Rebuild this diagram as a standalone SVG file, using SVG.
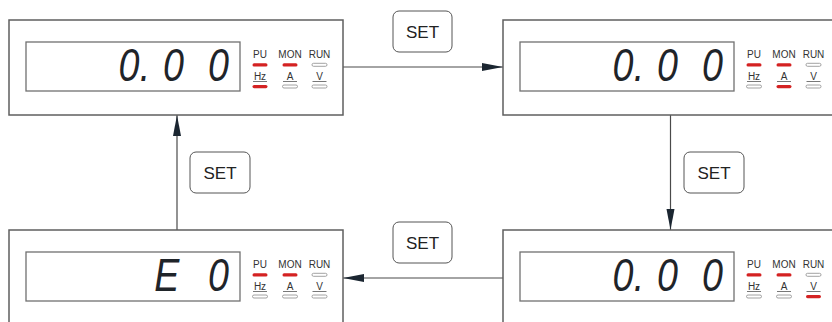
<svg xmlns="http://www.w3.org/2000/svg" width="832" height="322" viewBox="0 0 832 322">
<defs>
<style>
.panel{fill:#fff;stroke:#5f5f5f;stroke-width:1.5}
.lcd{fill:#fff;stroke:#707070;stroke-width:1.3}
.seg{font-family:"Liberation Sans",Arial,sans-serif;font-style:italic;font-size:47px;fill:#1f2429;text-anchor:middle}
.lbl{font-family:"Liberation Sans",Arial,sans-serif;font-size:10px;fill:#333;text-anchor:middle}
.on{fill:#d42222}
.off{fill:#fff;stroke:#8a8a8a;stroke-width:0.8}
.ul{stroke:#555;stroke-width:0.8}
.conn{stroke:#4a4a4a;stroke-width:1.2;fill:none}
.key rect{fill:#fff;stroke:#555;stroke-width:1}
.key text{font-family:"Liberation Sans",Arial,sans-serif;font-size:17px;fill:#222;text-anchor:middle}
</style>
<marker id="arr" markerUnits="userSpaceOnUse" markerWidth="22" markerHeight="9" refX="21" refY="4" orient="auto">
<path d="M0,0 L21,4 L0,8 z" fill="#1b2631"/>
</marker>
</defs>
<rect width="832" height="322" fill="#fff"/>

<g id="connectors">
<line class="conn" x1="343" y1="67" x2="503" y2="67" marker-end="url(#arr)"/>
<line class="conn" x1="670.5" y1="115" x2="670.5" y2="230" marker-end="url(#arr)"/>
<line class="conn" x1="503" y1="278" x2="343" y2="278" marker-end="url(#arr)"/>
<line class="conn" x1="177" y1="230" x2="177" y2="115" marker-end="url(#arr)"/>
</g>

<g id="key-top" class="key"><rect x="393" y="11" width="59" height="41" rx="6"/><text x="422.5" y="38">SET</text></g>
<g id="key-right" class="key"><rect x="684" y="152" width="60" height="41" rx="6"/><text x="714" y="179">SET</text></g>
<g id="key-bottom" class="key"><rect x="393" y="222" width="59" height="41" rx="6"/><text x="422.5" y="249">SET</text></g>
<g id="key-left" class="key"><rect x="190" y="152" width="60" height="41" rx="6"/><text x="220" y="179">SET</text></g>

<g id="panel-top-left" transform="translate(9,20)">
<rect class="panel" x="0" y="0" width="334" height="95"/>
<rect class="lcd" x="17" y="22" width="214" height="49"/>
<text class="seg" y="61" transform="scale(0.8 1)"><tspan x="150">0</tspan><tspan x="170">.</tspan><tspan x="205.6">0</tspan><tspan x="261.9">0</tspan></text>
<text class="lbl" x="251" y="38">PU</text><text class="lbl" x="281" y="38">MON</text><text class="lbl" x="310.5" y="38">RUN</text>
<rect class="on" x="243.5" y="43.3" width="15" height="3.2" rx="1.6"/><rect class="on" x="273.5" y="43.3" width="15" height="3.2" rx="1.6"/><rect class="off" x="303" y="43.3" width="15" height="3" rx="1.5"/>
<text class="lbl" x="251" y="60">Hz</text><text class="lbl" x="281" y="60">A</text><text class="lbl" x="310.5" y="60">V</text>
<line class="ul" x1="244" y1="61.5" x2="258" y2="61.5"/><line class="ul" x1="274" y1="61.5" x2="288" y2="61.5"/><line class="ul" x1="303.5" y1="61.5" x2="317.5" y2="61.5"/>
<rect class="on" x="243.5" y="65" width="15" height="3.2" rx="1.6"/><rect class="off" x="273.5" y="65" width="15" height="3" rx="1.5"/><rect class="off" x="303" y="65" width="15" height="3" rx="1.5"/>
</g>

<g id="panel-top-right" transform="translate(503,20)">
<rect class="panel" x="0" y="0" width="334" height="95"/>
<rect class="lcd" x="17" y="22" width="214" height="49"/>
<text class="seg" y="61" transform="scale(0.8 1)"><tspan x="150">0</tspan><tspan x="170">.</tspan><tspan x="205.6">0</tspan><tspan x="261.9">0</tspan></text>
<text class="lbl" x="251" y="38">PU</text><text class="lbl" x="281" y="38">MON</text><text class="lbl" x="310.5" y="38">RUN</text>
<rect class="on" x="243.5" y="43.3" width="15" height="3.2" rx="1.6"/><rect class="on" x="273.5" y="43.3" width="15" height="3.2" rx="1.6"/><rect class="off" x="303" y="43.3" width="15" height="3" rx="1.5"/>
<text class="lbl" x="251" y="60">Hz</text><text class="lbl" x="281" y="60">A</text><text class="lbl" x="310.5" y="60">V</text>
<line class="ul" x1="244" y1="61.5" x2="258" y2="61.5"/><line class="ul" x1="274" y1="61.5" x2="288" y2="61.5"/><line class="ul" x1="303.5" y1="61.5" x2="317.5" y2="61.5"/>
<rect class="off" x="243.5" y="65" width="15" height="3" rx="1.5"/><rect class="on" x="273.5" y="65" width="15" height="3.2" rx="1.6"/><rect class="off" x="303" y="65" width="15" height="3" rx="1.5"/>
</g>

<g id="panel-bottom-right" transform="translate(503,230)">
<rect class="panel" x="0" y="0" width="334" height="95"/>
<rect class="lcd" x="17" y="22" width="214" height="49"/>
<text class="seg" y="61" transform="scale(0.8 1)"><tspan x="150">0</tspan><tspan x="170">.</tspan><tspan x="205.6">0</tspan><tspan x="261.9">0</tspan></text>
<text class="lbl" x="251" y="38">PU</text><text class="lbl" x="281" y="38">MON</text><text class="lbl" x="310.5" y="38">RUN</text>
<rect class="on" x="243.5" y="43.3" width="15" height="3.2" rx="1.6"/><rect class="on" x="273.5" y="43.3" width="15" height="3.2" rx="1.6"/><rect class="off" x="303" y="43.3" width="15" height="3" rx="1.5"/>
<text class="lbl" x="251" y="60">Hz</text><text class="lbl" x="281" y="60">A</text><text class="lbl" x="310.5" y="60">V</text>
<line class="ul" x1="244" y1="61.5" x2="258" y2="61.5"/><line class="ul" x1="274" y1="61.5" x2="288" y2="61.5"/><line class="ul" x1="303.5" y1="61.5" x2="317.5" y2="61.5"/>
<rect class="off" x="243.5" y="65" width="15" height="3" rx="1.5"/><rect class="off" x="273.5" y="65" width="15" height="3" rx="1.5"/><rect class="on" x="303" y="65" width="15" height="3.2" rx="1.6"/>
</g>

<g id="panel-bottom-left" transform="translate(9,230)">
<rect class="panel" x="0" y="0" width="334" height="95"/>
<rect class="lcd" x="17" y="22" width="214" height="49"/>
<text class="seg" y="61" transform="scale(0.8 1)"><tspan x="203.8">E</tspan> <tspan x="261.9">0</tspan></text>
<text class="lbl" x="251" y="38">PU</text><text class="lbl" x="281" y="38">MON</text><text class="lbl" x="310.5" y="38">RUN</text>
<rect class="on" x="243.5" y="43.3" width="15" height="3.2" rx="1.6"/><rect class="on" x="273.5" y="43.3" width="15" height="3.2" rx="1.6"/><rect class="off" x="303" y="43.3" width="15" height="3" rx="1.5"/>
<text class="lbl" x="251" y="60">Hz</text><text class="lbl" x="281" y="60">A</text><text class="lbl" x="310.5" y="60">V</text>
<line class="ul" x1="244" y1="61.5" x2="258" y2="61.5"/><line class="ul" x1="274" y1="61.5" x2="288" y2="61.5"/><line class="ul" x1="303.5" y1="61.5" x2="317.5" y2="61.5"/>
<rect class="off" x="243.5" y="65" width="15" height="3" rx="1.5"/><rect class="off" x="273.5" y="65" width="15" height="3" rx="1.5"/><rect class="off" x="303" y="65" width="15" height="3" rx="1.5"/>
</g>
</svg>
